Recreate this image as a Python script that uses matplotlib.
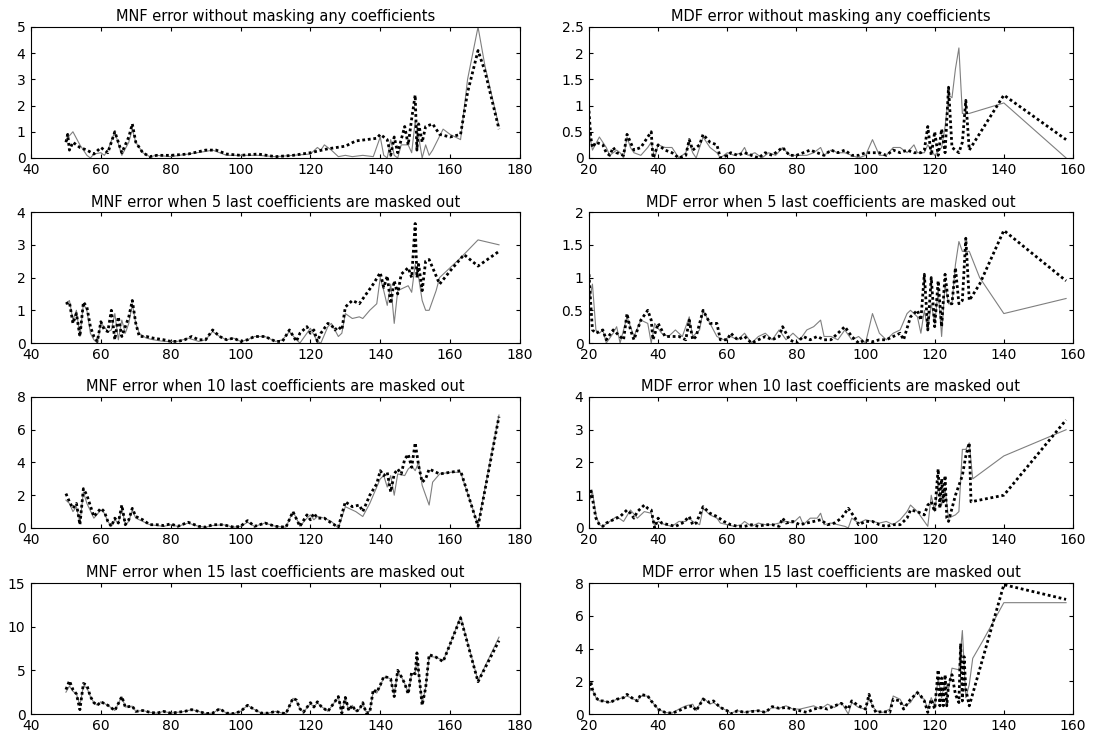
import matplotlib
matplotlib.use('Agg')
import matplotlib.pyplot as plt
import numpy as np
from matplotlib.ticker import FuncFormatter

plt.rcParams['font.family'] = ['DejaVu Sans']

# MNF error, no coefficients masked
mnf0_gray = [(50, 0.7), (52, 1.0), (54, 0.5), (56, 0.1), (57, 0.0), (58, 0.15), (60, 0.2), (61, 0.1), (62, 0.3),
             (64, 1.0), (66, 0.1), (68, 0.6), (69, 1.1), (70, 0.6), (72, 0.2), (74, 0.05), (76, 0.1), (80, 0.05),
             (85, 0.15), (90, 0.25), (92, 0.3), (94, 0.2), (96, 0.1), (100, 0.1), (105, 0.1), (110, 0.05),
             (115, 0.1), (120, 0.15), (122, 0.4), (123, 0.3), (124, 0.5), (126, 0.3), (128, 0.05), (130, 0.1),
             (132, 0.05), (135, 0.1), (138, 0.05), (140, 0.8), (141, 0.1), (142, 0.0), (143, 0.7), (144, 0.1),
             (145, 0.0), (146, 0.5), (148, 0.5), (149, 0.2), (150, 1.4), (151, 0.8), (152, 0.0), (153, 0.5),
             (154, 0.1), (155, 0.3), (158, 1.1), (160, 0.9), (163, 0.7), (165, 3.0), (168, 5.0), (170, 3.5),
             (174, 1.2)]
mnf0_dots = [(50, 0.6), (50.5, 0.9), (51, 0.3), (52, 0.6), (54, 0.4), (56, 0.3), (58, 0.15), (60, 0.4), (62, 0.2),
             (64, 1.0), (66, 0.2), (68, 0.8), (69, 1.3), (70, 0.6), (72, 0.2), (74, 0.05), (76, 0.1), (80, 0.1),
             (85, 0.15), (90, 0.3), (93, 0.3), (96, 0.15), (100, 0.1), (105, 0.15), (110, 0.05), (115, 0.1),
             (120, 0.2), (125, 0.35), (130, 0.45), (133, 0.65), (136, 0.7), (139, 0.75), (140, 0.9), (142, 0.7),
             (143, 0.1), (144, 0.8), (145, 0.2), (147, 1.2), (148, 0.5), (149, 1.5), (150, 2.4), (150.5, 0.3),
             (151, 1.3), (152, 0.6), (153, 1.2), (155, 1.3), (157, 0.9), (160, 0.8), (163, 0.9), (165, 2.5),
             (168, 4.1), (170, 3.3), (174, 1.1)]

# MDF error, no coefficients masked
mdf0_gray = [(20, 0.5), (21, 0.15), (23, 0.4), (25, 0.2), (26, 0.05), (28, 0.15), (29, 0.1), (30, 0.0), (31, 0.4),
             (32, 0.2), (33, 0.1), (35, 0.05), (37, 0.2), (38, 0.3), (39, 0.0), (40, 0.25), (42, 0.2), (44, 0.2),
             (46, 0.0), (48, 0.1), (49, 0.3), (50, 0.1), (51, 0.0), (53, 0.4), (55, 0.2), (57, 0.1), (58, 0.0),
             (60, 0.1), (62, 0.05), (64, 0.1), (65, 0.2), (66, 0.05), (68, 0.1), (70, 0.0), (72, 0.1), (74, 0.05),
             (76, 0.2), (78, 0.05), (80, 0.05), (83, 0.05), (85, 0.1), (87, 0.2), (88, 0.05), (90, 0.15), (92, 0.1),
             (94, 0.1), (96, 0.05), (98, 0.0), (100, 0.05), (102, 0.35), (104, 0.05), (106, 0.05), (108, 0.2),
             (110, 0.2), (112, 0.1), (114, 0.25), (115, 0.1), (117, 0.1), (118, 0.25), (120, 0.05), (122, 0.2),
             (123, 0.6), (124, 1.2), (125, 1.15), (126, 1.7), (127, 2.1), (128, 0.85), (130, 0.85), (140, 1.05),
             (158, 0.0)]
mdf0_dots = [(20, 0.9), (20.5, 0.4), (21, 0.2), (22, 0.3), (24, 0.25), (25, 0.1), (26, 0.05), (27, 0.2), (28, 0.1),
             (30, 0.05), (31, 0.45), (32, 0.3), (33, 0.15), (35, 0.2), (37, 0.4), (38, 0.5), (38.5, 0.0), (40, 0.25),
             (42, 0.15), (44, 0.1), (45, 0.05), (46, 0.0), (48, 0.05), (49, 0.35), (50, 0.15), (52, 0.25), (53, 0.45),
             (55, 0.3), (57, 0.25), (58, 0.0), (60, 0.05), (61, 0.1), (63, 0.05), (65, 0.1), (67, 0.05), (69, 0.0),
             (71, 0.1), (73, 0.05), (75, 0.15), (76, 0.2), (78, 0.05), (80, 0.05), (82, 0.1), (84, 0.15), (86, 0.1),
             (88, 0.05), (90, 0.15), (92, 0.1), (94, 0.15), (96, 0.05), (98, 0.05), (100, 0.1), (104, 0.1),
             (106, 0.05), (108, 0.15), (110, 0.1), (112, 0.15), (114, 0.1), (116, 0.1), (117, 0.15), (118, 0.6),
             (119, 0.05), (120, 0.5), (121, 0.05), (122, 0.55), (123, 0.1), (124, 1.35), (125, 0.2), (127, 0.1),
             (128, 0.3), (129, 1.1), (130, 0.15), (140, 1.2), (158, 0.35)]

# MNF error, 5 last coefficients masked
mnf5_gray = [(50, 1.2), (51, 1.3), (52, 0.7), (53, 1.0), (54, 0.2), (55, 1.2), (56, 1.0), (57, 0.3), (58, 0.1),
             (59, 0.0), (60, 0.6), (61, 0.5), (62, 0.35), (63, 0.4), (64, 0.9), (65, 0.1), (66, 0.7), (67, 0.3),
             (68, 0.6), (69, 1.2), (70, 0.6), (71, 0.3), (73, 0.15), (75, 0.1), (78, 0.05), (80, 0.05), (82, 0.05),
             (85, 0.15), (88, 0.05), (90, 0.1), (92, 0.35), (94, 0.2), (96, 0.1), (98, 0.15), (100, 0.05),
             (102, 0.1), (104, 0.2), (107, 0.2), (110, 0.05), (112, 0.1), (114, 0.35), (116, 0.1), (117, 0.0),
             (119, 0.3), (120, 0.45), (121, 0.25), (122, 0.05), (123, 0.0), (125, 0.5), (126, 0.6), (127, 0.4),
             (128, 0.2), (129, 0.3), (130, 0.9), (132, 0.75), (134, 0.8), (135, 0.75), (137, 1.0), (139, 1.2),
             (140, 2.0), (141, 1.6), (142, 1.15), (143, 1.8), (144, 0.6), (145, 1.6), (147, 1.7), (148, 1.75),
             (149, 1.55), (150, 2.4), (151, 2.0), (152, 1.3), (153, 1.0), (154, 1.0), (156, 1.6), (157, 2.0),
             (160, 2.3), (163, 2.6), (168, 3.15), (174, 3.0)]
mnf5_dots = [(50, 1.2), (51, 1.25), (52, 0.6), (53, 0.9), (54, 0.2), (55, 1.25), (56, 1.1), (57, 0.5), (58, 0.2),
             (59, 0.05), (60, 0.65), (61, 0.4), (62, 0.35), (63, 1.0), (64, 0.1), (65, 0.8), (66, 0.2), (67, 0.5),
             (68, 0.8), (69, 1.3), (70, 0.6), (71, 0.2), (73, 0.2), (75, 0.15), (78, 0.1), (80, 0.05), (82, 0.05),
             (84, 0.1), (86, 0.2), (88, 0.1), (90, 0.1), (92, 0.4), (94, 0.2), (96, 0.1), (98, 0.15), (100, 0.05),
             (102, 0.1), (104, 0.2), (107, 0.2), (110, 0.05), (112, 0.05), (114, 0.4), (116, 0.05), (117, 0.3),
             (119, 0.5), (120, 0.3), (121, 0.4), (122, 0.05), (123, 0.3), (125, 0.6), (126, 0.55), (127, 0.4),
             (128, 0.5), (129, 0.4), (130, 1.1), (132, 1.3), (134, 1.2), (136, 1.5), (138, 1.8), (140, 2.15),
             (141, 1.7), (142, 2.05), (143, 1.2), (144, 1.9), (145, 1.5), (146, 2.1), (148, 2.3), (149, 2.0),
             (150, 3.65), (150.5, 2.0), (151, 2.4), (152, 1.6), (153, 2.5), (154, 2.55), (157, 1.8), (160, 2.2),
             (164, 2.7), (168, 2.35), (174, 2.8)]

# MDF error, 5 last coefficients masked
mdf5_gray = [(20, 0.6), (21, 0.9), (22, 0.2), (23, 0.15), (24, 0.2), (25, 0.0), (27, 0.15), (28, 0.25), (29, 0.0),
             (31, 0.4), (32, 0.25), (33, 0.1), (35, 0.35), (37, 0.3), (38, 0.0), (39, 0.3), (41, 0.15), (43, 0.1),
             (45, 0.2), (47, 0.1), (49, 0.4), (50, 0.1), (52, 0.2), (53, 0.5), (55, 0.3), (57, 0.1), (59, 0.05),
             (61, 0.1), (63, 0.05), (65, 0.15), (67, 0.0), (69, 0.1), (71, 0.15), (73, 0.05), (75, 0.2), (77, 0.05),
             (79, 0.15), (81, 0.05), (83, 0.2), (85, 0.25), (87, 0.35), (88, 0.1), (90, 0.1), (92, 0.05), (94, 0.2),
             (96, 0.05), (98, 0.1), (100, 0.0), (102, 0.45), (104, 0.15), (106, 0.05), (108, 0.15), (110, 0.2),
             (112, 0.45), (113, 0.5), (115, 0.4), (116, 0.15), (117, 0.5), (118, 0.2), (119, 0.6), (120, 0.3),
             (121, 0.8), (122, 0.1), (123, 0.9), (124, 0.6), (125, 0.6), (126, 1.2), (127, 1.55), (128, 1.4),
             (129, 1.4), (130, 1.4), (133, 1.0), (140, 0.45), (158, 0.68)]
mdf5_dots = [(20, 1.05), (20.5, 0.6), (21, 0.2), (22, 0.15), (24, 0.2), (25, 0.05), (27, 0.2), (28, 0.15), (30, 0.05),
             (31, 0.45), (32, 0.2), (33, 0.05), (35, 0.35), (37, 0.5), (38, 0.35), (38.5, 0.05), (40, 0.3), (42, 0.1),
             (44, 0.1), (46, 0.1), (48, 0.05), (49, 0.35), (50, 0.05), (51, 0.1), (53, 0.5), (55, 0.3), (57, 0.3),
             (58, 0.05), (60, 0.05), (61, 0.15), (63, 0.05), (65, 0.1), (67, 0.0), (69, 0.05), (71, 0.1), (73, 0.05),
             (75, 0.1), (76, 0.25), (78, 0.05), (80, 0.0), (82, 0.1), (84, 0.05), (86, 0.1), (88, 0.05), (90, 0.05),
             (92, 0.15), (94, 0.25), (96, 0.1), (98, 0.0), (100, 0.05), (102, 0.02), (104, 0.05), (106, 0.05),
             (108, 0.1), (110, 0.15), (111, 0.05), (113, 0.4), (115, 0.5), (116, 0.35), (117, 1.05), (118, 0.2),
             (119, 1.0), (120, 0.25), (121, 0.95), (122, 0.25), (123, 1.05), (124, 0.6), (125, 0.6), (126, 1.15),
             (127, 0.6), (128, 0.65), (129, 1.6), (130, 0.65), (133, 0.9), (140, 1.72), (158, 0.95)]

# MNF error, 10 last coefficients masked
mnf10_gray = [(50, 1.7), (51, 1.5), (52, 1.0), (53, 1.3), (54, 0.3), (55, 2.2), (56, 1.5), (58, 0.6), (60, 1.1),
              (61, 0.9), (62, 0.4), (63, 0.1), (64, 0.5), (65, 0.3), (66, 1.2), (67, 0.2), (68, 0.4), (69, 1.1),
              (70, 0.6), (72, 0.4), (74, 0.2), (76, 0.15), (78, 0.1), (80, 0.2), (82, 0.1), (85, 0.3), (88, 0.1),
              (90, 0.05), (92, 0.15), (95, 0.2), (98, 0.05), (100, 0.1), (102, 0.35), (104, 0.1), (107, 0.3),
              (110, 0.1), (113, 0.05), (115, 1.0), (116, 0.6), (117, 0.1), (119, 0.6), (120, 0.8), (121, 0.5),
              (122, 0.7), (124, 0.6), (126, 0.4), (128, 0.0), (130, 1.3), (133, 1.0), (135, 0.7), (137, 1.5),
              (139, 2.5), (140, 3.0), (141, 3.2), (142, 2.5), (143, 3.2), (144, 2.0), (145, 3.3), (147, 3.2),
              (148, 3.6), (149, 3.8), (150, 3.5), (151, 4.0), (152, 2.6), (154, 1.4), (155, 2.8), (157, 3.3),
              (160, 3.4), (163, 3.4), (168, 0.2), (174, 6.9)]
mnf10_dots = [(50, 2.1), (51, 1.6), (52, 1.2), (53, 1.5), (54, 0.2), (55, 2.4), (56, 2.0), (58, 0.7), (60, 1.2),
              (61, 1.0), (62, 0.4), (63, 0.1), (64, 0.6), (65, 0.3), (66, 1.4), (67, 0.2), (68, 0.5), (69, 1.2),
              (70, 0.7), (72, 0.5), (74, 0.2), (76, 0.2), (78, 0.15), (80, 0.25), (82, 0.1), (85, 0.35), (88, 0.1),
              (90, 0.05), (92, 0.2), (95, 0.2), (98, 0.05), (100, 0.1), (102, 0.45), (104, 0.1), (107, 0.3),
              (110, 0.1), (113, 0.05), (115, 1.0), (117, 0.1), (119, 0.8), (120, 0.5), (121, 0.9), (122, 0.6),
              (124, 0.6), (126, 0.3), (128, 0.05), (130, 1.6), (132, 1.3), (134, 1.4), (135, 1.0), (137, 2.0),
              (139, 2.7), (140, 3.5), (141, 3.2), (142, 3.4), (143, 2.2), (144, 3.3), (145, 3.6), (146, 3.3),
              (147, 4.2), (148, 4.5), (149, 3.7), (150, 5.2), (151, 3.8), (152, 2.8), (153, 3.0), (154, 3.6),
              (157, 3.3), (160, 3.4), (163, 3.5), (168, 0.1), (174, 6.8)]

# MDF error, 10 last coefficients masked
mdf10_gray = [(20, 0.8), (21, 1.1), (22, 0.4), (23, 0.1), (24, 0.05), (26, 0.2), (28, 0.35), (30, 0.2), (32, 0.55),
              (34, 0.3), (36, 0.5), (38, 0.45), (39, 0.05), (40, 0.2), (42, 0.1), (44, 0.05), (46, 0.2), (48, 0.2),
              (49, 0.3), (50, 0.2), (52, 0.1), (53, 0.6), (55, 0.4), (57, 0.3), (58, 0.15), (60, 0.1), (62, 0.05),
              (64, 0.1), (65, 0.2), (67, 0.05), (69, 0.15), (71, 0.1), (73, 0.1), (75, 0.15), (77, 0.2), (79, 0.15),
              (81, 0.35), (82, 0.1), (84, 0.3), (86, 0.3), (87, 0.45), (88, 0.1), (90, 0.15), (92, 0.1), (94, 0.05),
              (95, 0.0), (96, 0.3), (98, 0.15), (100, 0.25), (102, 0.2), (104, 0.15), (106, 0.2), (108, 0.1),
              (110, 0.25), (112, 0.5), (113, 0.7), (115, 0.5), (117, 0.2), (118, 0.05), (119, 1.0), (120, 0.5),
              (121, 1.3), (122, 0.7), (123, 1.2), (124, 0.3), (126, 0.4), (127, 0.5), (128, 2.4), (129, 2.4),
              (130, 2.6), (131, 1.5), (140, 2.2), (158, 3.0)]
mdf10_dots = [(20, 0.9), (20.5, 1.2), (21, 0.9), (22, 0.3), (23, 0.1), (24, 0.05), (25, 0.15), (27, 0.25), (29, 0.35),
              (31, 0.55), (32, 0.45), (33, 0.3), (34, 0.5), (36, 0.7), (37, 0.6), (38, 0.55), (39, 0.0), (40, 0.3),
              (41, 0.15), (43, 0.1), (45, 0.05), (47, 0.15), (49, 0.35), (50, 0.1), (51, 0.15), (53, 0.65), (55, 0.45),
              (57, 0.35), (59, 0.2), (61, 0.1), (63, 0.05), (65, 0.05), (67, 0.1), (69, 0.05), (71, 0.1), (73, 0.1),
              (75, 0.05), (76, 0.3), (77, 0.15), (79, 0.2), (81, 0.1), (83, 0.15), (85, 0.2), (87, 0.25), (89, 0.1),
              (91, 0.15), (93, 0.3), (95, 0.6), (97, 0.3), (98, 0.1), (100, 0.2), (102, 0.2), (104, 0.1), (106, 0.05),
              (108, 0.1), (110, 0.1), (112, 0.3), (113, 0.55), (115, 0.5), (116, 0.45), (117, 0.4), (118, 0.7),
              (119, 0.8), (120, 0.5), (121, 1.8), (121.5, 0.6), (122, 1.5), (122.5, 0.8), (123, 1.6), (123.5, 0.3),
              (124, 0.2), (126, 1.0), (128, 1.6), (129, 2.2), (130, 2.6), (130.5, 0.8), (140, 1.0), (158, 3.3)]

# MNF error, 15 last coefficients masked
mnf15_gray = [(50, 2.5), (51, 3.2), (52, 2.6), (53, 2.3), (54, 1.0), (55, 3.2), (56, 3.0), (57, 2.0), (58, 1.3),
              (59, 1.0), (60, 1.4), (62, 1.0), (64, 0.4), (65, 1.2), (66, 2.0), (67, 0.8), (69, 0.9), (70, 0.3),
              (72, 0.4), (74, 0.2), (76, 0.1), (78, 0.3), (80, 0.1), (82, 0.2), (84, 0.3), (86, 0.5), (88, 0.3),
              (90, 0.05), (92, 0.1), (94, 0.6), (96, 0.1), (98, 0.05), (100, 0.3), (102, 1.0), (104, 0.5),
              (106, 0.1), (108, 0.1), (110, 0.3), (112, 0.1), (113, 0.05), (115, 1.8), (116, 1.5), (117, 0.6),
              (118, 0.2), (120, 1.2), (121, 0.8), (122, 1.3), (123, 0.9), (125, 0.3), (127, 1.4), (128, 1.9),
              (129, 0.3), (130, 1.8), (131, 0.4), (132, 1.0), (133, 0.3), (134, 0.5), (135, 1.2), (136, 0.2),
              (137, 0.3), (138, 2.6), (139, 2.4), (140, 3.2), (141, 4.2), (142, 4.2), (143, 4.0), (144, 2.2),
              (145, 4.8), (146, 4.3), (147, 3.5), (148, 2.4), (149, 4.6), (150, 4.6), (150.5, 6.6), (151, 4.6),
              (152, 1.2), (153, 3.0), (154, 6.6), (156, 6.5), (158, 6.1), (160, 8.0), (163, 11.2), (168, 3.8),
              (174, 8.8)]
mnf15_dots = [(50, 2.8), (51, 3.8), (52, 2.8), (53, 2.3), (54, 0.5), (55, 3.5), (56, 3.3), (57, 2.0), (58, 1.3),
              (59, 1.0), (60, 1.4), (62, 1.0), (64, 0.4), (65, 1.2), (66, 2.0), (67, 0.8), (69, 0.9), (70, 0.3),
              (72, 0.4), (74, 0.2), (76, 0.1), (78, 0.3), (80, 0.1), (82, 0.2), (84, 0.3), (86, 0.5), (88, 0.3),
              (90, 0.05), (92, 0.1), (94, 0.6), (96, 0.1), (98, 0.05), (100, 0.3), (102, 1.0), (104, 0.5),
              (106, 0.1), (108, 0.1), (110, 0.3), (112, 0.1), (113, 0.05), (115, 1.8), (116, 1.6), (117, 0.6),
              (118, 0.2), (120, 1.3), (121, 0.8), (122, 1.4), (123, 0.9), (125, 0.3), (127, 1.4), (128, 2.0),
              (129, 0.1), (130, 1.9), (131, 0.4), (132, 1.0), (133, 0.3), (134, 0.5), (135, 1.3), (136, 0.1),
              (137, 0.2), (138, 2.8), (139, 2.5), (140, 3.3), (141, 4.3), (142, 4.2), (143, 4.0), (144, 2.0),
              (145, 5.0), (146, 4.3), (147, 3.5), (148, 2.3), (149, 4.8), (150, 4.6), (150.5, 7.0), (151, 4.8),
              (152, 1.0), (153, 3.0), (154, 6.8), (156, 6.5), (158, 6.0), (160, 8.0), (163, 11.0), (168, 3.7),
              (174, 8.4)]

# MDF error, 15 last coefficients masked
mdf15_gray = [(20, 1.6), (21, 1.5), (22, 1.0), (23, 0.8), (24, 0.8), (26, 0.7), (28, 0.9), (30, 1.0), (31, 1.1),
              (33, 0.9), (34, 0.8), (35, 1.1), (37, 1.1), (38, 0.8), (40, 0.3), (42, 0.1), (44, 0.05), (46, 0.3),
              (48, 0.5), (50, 0.6), (51, 0.2), (53, 1.0), (55, 0.6), (56, 0.7), (58, 0.4), (60, 0.2), (61, 0.05),
              (63, 0.2), (65, 0.1), (67, 0.2), (69, 0.2), (71, 0.1), (73, 0.4), (75, 0.35), (77, 0.5), (79, 0.3),
              (81, 0.3), (83, 0.4), (85, 0.5), (87, 0.3), (89, 0.6), (91, 0.4), (93, 0.7), (95, 0.0), (96, 0.7),
              (98, 0.4), (100, 0.3), (101, 1.0), (102, 0.5), (103, 0.2), (105, 0.1), (107, 0.3), (108, 1.1),
              (110, 0.9), (111, 0.5), (113, 0.7), (115, 1.4), (116, 1.0), (117, 0.9), (118, 0.3), (119, 1.0),
              (120, 0.5), (121, 2.2), (122, 1.0), (123, 2.0), (124, 1.5), (125, 2.8), (127, 2.7), (128, 5.1),
              (129, 1.0), (130, 1.8), (131, 3.4), (134, 4.5), (140, 6.8), (158, 6.8)]
mdf15_dots = [(20, 1.4), (20.5, 2.0), (21, 1.5), (22, 1.0), (23, 0.8), (24, 0.8), (26, 0.7), (28, 0.9), (30, 1.0),
              (31, 1.2), (33, 0.9), (34, 0.8), (35, 1.2), (37, 1.1), (38, 0.8), (40, 0.3), (42, 0.1), (44, 0.05),
              (46, 0.2), (48, 0.4), (50, 0.5), (51, 0.2), (53, 0.9), (55, 0.7), (56, 0.8), (58, 0.4), (60, 0.2),
              (61, 0.0), (63, 0.2), (65, 0.1), (67, 0.15), (69, 0.2), (71, 0.1), (73, 0.45), (75, 0.35), (77, 0.4),
              (79, 0.3), (81, 0.2), (83, 0.1), (85, 0.3), (87, 0.4), (89, 0.3), (91, 0.5), (93, 0.65), (95, 0.3),
              (96, 0.8), (98, 0.5), (100, 0.3), (101, 1.2), (102, 0.5), (103, 0.1), (105, 0.15), (107, 0.1),
              (108, 0.9), (110, 0.8), (111, 0.3), (113, 0.9), (115, 1.3), (116, 1.1), (117, 0.8), (118, 0.1),
              (119, 0.9), (120, 0.3), (121, 2.7), (121.5, 0.5), (122, 2.2), (122.5, 0.5), (123, 2.4), (123.5, 0.5),
              (124, 1.8), (125, 2.4), (126, 1.2), (127, 0.7), (127.5, 4.3), (128, 0.8), (128.5, 3.5), (129, 1.5),
              (130, 0.5), (140, 7.9), (158, 7.0)]

titles = [
    'MNF error without masking any coefficients', 'MDF error without masking any coefficients',
    'MNF error when 5 last coefficients are masked out', 'MDF error when 5 last coefficients are masked out',
    'MNF error when 10 last coefficients are masked out', 'MDF error when 10 last coefficients are masked out',
    'MNF error when 15 last coefficients are masked out', 'MDF error when 15 last coefficients are masked out',
]
series = [(mnf0_gray, mnf0_dots), (mdf0_gray, mdf0_dots),
          (mnf5_gray, mnf5_dots), (mdf5_gray, mdf5_dots),
          (mnf10_gray, mnf10_dots), (mdf10_gray, mdf10_dots),
          (mnf15_gray, mnf15_dots), (mdf15_gray, mdf15_dots)]
y_max = [5, 2.5, 4, 2, 8, 4, 15, 8]
y_step = [1, 0.5, 1, 0.5, 2, 1, 5, 2]
x_range = [(40, 180), (20, 160)]

fig = plt.figure(figsize=(10.96, 7.33), dpi=100)
col_left = [0.0283, 0.5374]
col_width = [0.4461, 0.4416]
row_bottom = [0.7845, 0.532, 0.2797, 0.0259]
row_height = 0.1787

fmt = FuncFormatter(lambda v, pos: '%g' % v)

for i in range(8):
    row, col = divmod(i, 2)
    ax = fig.add_axes([col_left[col], row_bottom[row], col_width[col], row_height])
    gray = np.array(series[i][0])
    dots = np.array(series[i][1])
    ax.plot(gray[:, 0], gray[:, 1], color='#7f7f7f', lw=0.8)
    ax.plot(dots[:, 0], dots[:, 1], color='black', lw=2.0, linestyle=(0, (1, 1)))
    x0, x1 = x_range[col]
    ax.set_xlim(x0, x1)
    ax.set_ylim(0, y_max[i])
    ax.set_xticks(np.arange(x0, x1 + 1, 20))
    ax.set_yticks(np.arange(0, y_max[i] + y_step[i] / 2, y_step[i]))
    ax.yaxis.set_major_formatter(fmt)
    ax.tick_params(direction='in', length=3, width=0.8, top=True, right=True, labelsize=10)
    ax.tick_params(axis='x', pad=3.5)
    ax.tick_params(axis='y', pad=4)
    for s in ax.spines.values():
        s.set_linewidth(0.8)
    ax.set_title(titles[i], fontsize=10.5, pad=4)

fig.savefig('out.png', dpi=100)
